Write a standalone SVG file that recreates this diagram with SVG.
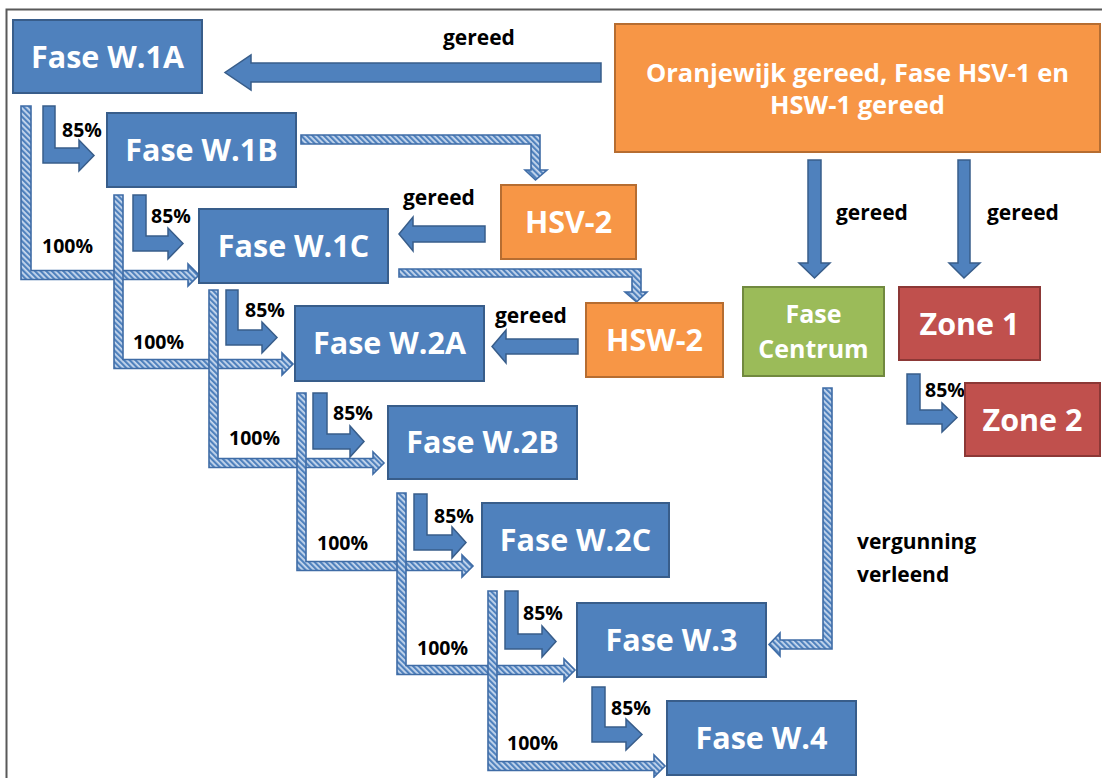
<svg xmlns="http://www.w3.org/2000/svg" width="1102" height="778" viewBox="0 0 1102 778">
<defs>
<pattern id="hatch" width="4" height="4" patternUnits="userSpaceOnUse" patternTransform="rotate(-45)">
<rect width="4" height="4" fill="#C9D9EE"/>
<rect width="2.2" height="4" fill="#4F81BD"/>
</pattern>
<style>
.b{fill:#4F81BD;stroke:#385D8A;stroke-width:2}
.o{fill:#F79646;stroke:#B66D31;stroke-width:2}
.g{fill:#9BBB59;stroke:#71893F;stroke-width:2}
.r{fill:#C0504D;stroke:#8C3836;stroke-width:2}
.nt{font-family:"Open Sans","Liberation Sans",sans-serif;font-weight:bold;fill:#fff;text-anchor:middle;font-size:30.5px}
.lt{font-family:"Open Sans","Liberation Sans",sans-serif;font-weight:bold;fill:#000;font-size:21px}
.pt{font-family:"Open Sans","Liberation Sans",sans-serif;font-weight:bold;fill:#000;font-size:19.5px}
.sa{fill:#4F81BD;stroke:#385D8A;stroke-width:1.5}
.ha{fill:url(#hatch);stroke:#3F6CA6;stroke-width:1.6}
.frame{stroke:#595959;stroke-width:2;fill:none}
</style>
</defs>
<rect width="1102" height="778" fill="#fff"/>
<path class="frame" d="M6.5,778 V9.5 H1102"/>

<g id="connectors">
<polygon class="ha" points="21,106 31,106 31,270.5 188,270.5 188,264 199,275 188,286 188,279.5 21,279.5"/>
<polygon class="ha" points="114,195 123,195 123,359.5 282,359.5 282,353 293,364 282,375 282,368.5 114,368.5"/>
<polygon class="ha" points="209,290 218,290 218,458.5 373,458.5 373,452 384,463 373,474 373,467.5 209,467.5"/>
<polygon class="ha" points="297,393 306,393 306,561.5 462,561.5 462,555 473,566 462,577 462,570.5 297,570.5"/>
<polygon class="ha" points="397,493 406,493 406,665.5 564,665.5 564,659 575,670 564,681 564,674.5 397,674.5"/>
<polygon class="ha" points="488,591 497,591 497,761.5 654,761.5 654,755 665,766 654,777 654,770.5 488,770.5"/>
<polygon class="ha" points="301,135 540,135 540,170 547,170 535.5,180 525,170 531,170 531,144 301,144"/>
<polygon class="ha" points="399,269 641,269 641,292 647,292 636.5,302 625,292 632,292 632,277 399,277"/>
<polygon class="ha" points="823,388 832,388 832,649 780,649 780,656 769,644.5 780,633 780,640 823,640"/>
<polygon class="sa" points="43,106 55,106 55,148 79,148 79,140 94,155.5 79,171 79,163 43,163"/>
<polygon class="sa" points="133,195 146,195 146,236 168,236 168,228 183,243.5 168,259 168,251 133,251"/>
<polygon class="sa" points="226,290 238,290 238,330 262,330 262,322 277,337.5 262,353 262,345 226,345"/>
<polygon class="sa" points="313,393 327,393 327,434 350,434 350,426 364,441.5 350,457 350,449 313,449"/>
<polygon class="sa" points="414,494 427,494 427,535 452,535 452,527 466,542.5 452,558 452,550 414,550"/>
<polygon class="sa" points="505,591 518,591 518,634 542,634 542,626 556,641.5 542,657 542,649 505,649"/>
<polygon class="sa" points="592,687 605,687 605,727 626,727 626,719 642,734.5 626,750 626,742 592,742"/>
<polygon class="sa" points="907,374 920,374 920,410 942,410 942,403 957,417.5 942,432 942,424 907,424"/>
<polygon class="sa" points="601,63 251,63 251,55 225,72.5 251,90 251,82 601,82"/>
<polygon class="sa" points="485,226 413,226 413,217 399,234 413,251 413,242 485,242"/>
<polygon class="sa" points="578,339 506,339 506,330 492,346.5 506,363 506,354 578,354"/>
<polygon class="sa" points="808,160 821,160 821,263 830,263 814.5,278 799,263 808,263"/>
<polygon class="sa" points="958,160 970,160 970,263 980,263 964,278 949,263 958,263"/>
<text class="lt" x="443" y="45">gereed</text>
<text class="lt" x="403" y="205">gereed</text>
<text class="lt" x="495" y="323">gereed</text>
<text class="lt" x="836" y="220">gereed</text>
<text class="lt" x="987" y="220">gereed</text>
<text class="lt" x="857" y="549">vergunning</text>
<text class="lt" x="857" y="582">verleend</text>
<text class="pt" x="62" y="137">85%</text>
<text class="pt" x="151" y="223">85%</text>
<text class="pt" x="245" y="317">85%</text>
<text class="pt" x="333" y="420">85%</text>
<text class="pt" x="434" y="523">85%</text>
<text class="pt" x="523" y="620">85%</text>
<text class="pt" x="611" y="715">85%</text>
<text class="pt" x="925" y="397">85%</text>
<text class="pt" x="42" y="253">100%</text>
<text class="pt" x="133" y="349">100%</text>
<text class="pt" x="229" y="445">100%</text>
<text class="pt" x="317" y="550">100%</text>
<text class="pt" x="417" y="655">100%</text>
<text class="pt" x="507" y="750">100%</text>
</g>

<g id="n-w1a"><rect class="b" x="13" y="20" width="189" height="73"/><text class="nt" x="107.5" y="67.5">Fase W.1A</text></g>
<g id="n-w1b"><rect class="b" x="107" y="113" width="189" height="74"/><text class="nt" x="201.5" y="161">Fase W.1B</text></g>
<g id="n-w1c"><rect class="b" x="199" y="209" width="189" height="74"/><text class="nt" x="293.5" y="257">Fase W.1C</text></g>
<g id="n-w2a"><rect class="b" x="295" y="306" width="189" height="75"/><text class="nt" x="389.5" y="354">Fase W.2A</text></g>
<g id="n-w2b"><rect class="b" x="388" y="406" width="189" height="73"/><text class="nt" x="482.5" y="453">Fase W.2B</text></g>
<g id="n-w2c"><rect class="b" x="482" y="503" width="187" height="74"/><text class="nt" x="575.5" y="551">Fase W.2C</text></g>
<g id="n-w3"><rect class="b" x="577" y="603" width="189" height="74"/><text class="nt" x="671.5" y="651">Fase W.3</text></g>
<g id="n-w4"><rect class="b" x="667" y="701" width="189" height="74"/><text class="nt" x="761.5" y="749">Fase W.4</text></g>
<g id="n-hsv2"><rect class="o" x="501" y="185" width="135" height="74"/><text class="nt" x="568.5" y="233">HSV-2</text></g>
<g id="n-hsw2"><rect class="o" x="586" y="303" width="137" height="74"/><text class="nt" x="654.5" y="351">HSW-2</text></g>
<g id="n-oranje"><rect class="o" x="615" y="24" width="485" height="128"/><text class="nt" x="857.5" y="82" style="font-size:25.5px">Oranjewijk gereed, Fase HSV-1 en</text><text class="nt" x="857.5" y="114" style="font-size:25.5px">HSW-1 gereed</text></g>
<g id="n-centrum"><rect class="g" x="743" y="287" width="141" height="89"/><text class="nt" x="813.5" y="323" style="font-size:25px">Fase</text><text class="nt" x="813.5" y="358" style="font-size:25px">Centrum</text></g>
<g id="n-zone1"><rect class="r" x="899" y="287" width="141" height="73"/><text class="nt" x="969.5" y="335">Zone 1</text></g>
<g id="n-zone2"><rect class="r" x="965" y="383" width="135" height="73"/><text class="nt" x="1032.5" y="431">Zone 2</text></g>
</svg>
